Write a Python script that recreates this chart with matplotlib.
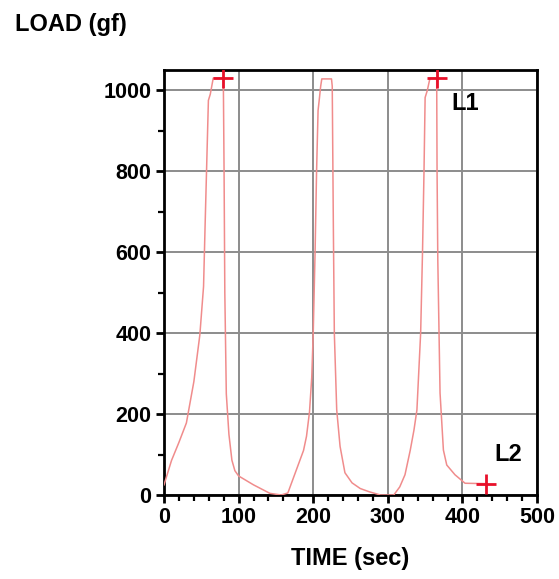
import matplotlib.pyplot as plt
from matplotlib.ticker import MultipleLocator

plt.rcParams['font.family'] = ['Liberation Sans', 'DejaVu Sans']
plt.rcParams['font.weight'] = 'bold'

# load curve (time in sec, load in gf)
time = [0, 10, 20, 30, 40, 48, 53, 55, 57, 59.5, 62, 66, 79.5, 80.5, 81.5, 83.5, 87, 91,
        95, 100, 120, 142, 157, 166, 173, 180, 187, 191, 195, 198, 200, 202.5, 204.5,
        206.5, 208, 210, 211.5, 224.5, 225.5, 227, 228.3, 231.5, 236, 242.5, 252,
        263, 275, 290, 303, 308, 316, 323, 330, 335, 339, 344, 346.5, 348.5, 350,
        353, 356.5, 365.5, 366, 367, 370, 374.5, 379, 390, 403.5, 431.5]
load = [25, 85, 130, 178, 280, 395, 515, 660, 800, 975, 990, 1030, 1030, 800, 500, 250,
        150, 86, 60, 47, 25, 4, 0, 5, 40, 75, 110, 145, 205, 290, 400, 600, 800,
        950, 975, 1010, 1028, 1028, 1010, 660, 400, 210, 120, 55, 30,
        16, 8, 0, 0, 0, 20, 50, 110, 160, 210, 400, 600, 800, 982,
        1000, 1030, 1030, 800, 580, 252, 111, 74, 50, 29, 28]

# crosshair markers and their labels
mark_t = [79.5, 365.5, 431.5]
mark_load = [1030, 1030, 28]
label_text = ['L1', 'L2']
label_t = [385, 443]
label_load = [968, 100]

fig = plt.figure(figsize=(5.59, 5.79), dpi=100)
ax = fig.add_axes([0.2934, 0.1451, 0.6673, 0.734])

ax.plot(time, load, color='#f08c8c', lw=1.1, zorder=3)
ax.plot(mark_t, mark_load, ls='none', marker='+', ms=15, mew=2, color='#e8102a', zorder=4)
for s, tx, ty in zip(label_text, label_t, label_load):
    ax.text(tx, ty, s, fontsize=17, fontweight='bold', va='center', ha='left')

ax.set_xlim(0, 500)
ax.set_ylim(0, 1050)
ax.xaxis.set_major_locator(MultipleLocator(100))
ax.xaxis.set_minor_locator(MultipleLocator(20))
ax.yaxis.set_major_locator(MultipleLocator(200))
ax.yaxis.set_minor_locator(MultipleLocator(100))
ax.grid(True, which='major', color='#8c8c8c', lw=1.4)
ax.set_axisbelow(True)
for sp in ax.spines.values():
    sp.set_linewidth(2)
ax.tick_params(which='major', direction='out', length=6, width=2, labelsize=15.5, pad=3)
ax.tick_params(which='minor', direction='out', length=4, width=1.6)
for lab in ax.get_xticklabels() + ax.get_yticklabels():
    lab.set_fontweight('bold')

ax.set_xlabel('TIME (sec)', fontsize=17, fontweight='bold', labelpad=13)
fig.text(0.027, 0.957, 'LOAD (gf)', fontsize=17, fontweight='bold', ha='left', va='center')

fig.savefig('out.png', dpi=100)
